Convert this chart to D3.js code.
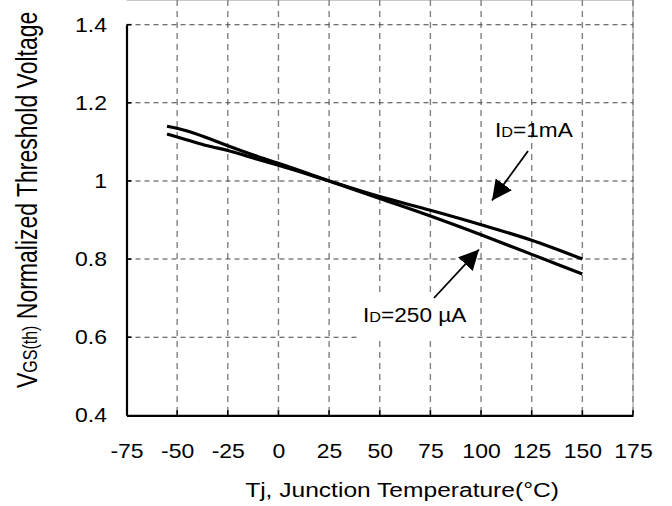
<!DOCTYPE html>
<html>
<head>
<meta charset="utf-8">
<script src="https://cdn.jsdelivr.net/npm/d3@7"></script>
<style>
  body { margin: 0; background: #fff; }
  svg { display: block; font-family: Arial, "Liberation Sans", sans-serif; }
</style>
</head>
<body>
<svg width="672" height="506"></svg>
<script>
// data
var temps = [-55, -45, -35, -25, -10, 0, 25, 50, 75, 100, 125, 150];
var vth1mA = [1.12, 1.105, 1.09, 1.078, 1.055, 1.04, 1.0, 0.96, 0.925, 0.888, 0.848, 0.80];
var vth250uA = [1.14, 1.128, 1.11, 1.09, 1.062, 1.045, 1.0, 0.955, 0.91, 0.862, 0.812, 0.762];
var xTicks = [-75, -50, -25, 0, 25, 50, 75, 100, 125, 150, 175];
var yTicks = [0.4, 0.6, 0.8, 1.0, 1.2, 1.4];

var svg = d3.select("svg");

// the source picture is stretched sideways, so text gets a horizontal scale
var stretch = 1.15;

var x = d3.scaleLinear().domain([-75, 175]).range([126.5, 633]);
var y = d3.scaleLinear().domain([0.4, 1.4]).range([415.3, 24.7]);

var left = x(-75), right = x(175), top = y(1.4), bottom = y(0.4);

// frame: light top / right border
svg.append("line")
    .attr("x1", left).attr("x2", right).attr("y1", top).attr("y2", top)
    .attr("stroke", "#c8c8c8").attr("stroke-width", 2);
svg.append("line")
    .attr("x1", right).attr("x2", right).attr("y1", top).attr("y2", bottom)
    .attr("stroke", "#c8c8c8").attr("stroke-width", 2);

// grid
var grid = svg.append("g");
grid.selectAll("line.v")
  .data(xTicks.slice(1))
  .join("line")
    .attr("class", "v")
    .attr("x1", d => x(d)).attr("x2", d => x(d))
    .attr("y1", top).attr("y2", bottom)
    .attr("stroke", "#808080")
    .attr("stroke-width", 1.4)
    .attr("stroke-dasharray", "6,5");
grid.selectAll("line.h")
  .data(yTicks.slice(1))
  .join("line")
    .attr("class", "h")
    .attr("x1", left).attr("x2", right)
    .attr("y1", d => y(d)).attr("y2", d => y(d))
    .attr("stroke", "#444")
    .attr("stroke-width", 1.1)
    .attr("stroke-dasharray", "5,4");

// white box behind the lower label
svg.append("rect")
    .attr("x", 357).attr("y", 297).attr("width", 104).attr("height", 44)
    .attr("fill", "#fff");

// axes
var xAxis = d3.axisBottom(x).tickValues(xTicks).tickSize(0).tickPadding(28.5)
    .tickFormat(d => String(d));
var yAxis = d3.axisLeft(y).tickValues(yTicks).tickSize(0).tickPadding(19.5 / stretch)
    .tickFormat(d => d === 1 ? "1" : d3.format(".1f")(d));

var gx = svg.append("g").attr("transform", `translate(0,${bottom})`).call(xAxis);
var gy = svg.append("g").attr("transform", `translate(${left},0)`).call(yAxis);
[gx, gy].forEach(g => {
  g.select(".domain").attr("stroke", "#000").attr("stroke-width", 2.2);
  g.selectAll("text").attr("font-size", 20).attr("fill", "#000")
    .attr("font-family", "Arial, 'Liberation Sans', sans-serif")
    .attr("transform", `scale(${stretch},1)`);
});

// short inner tick stubs
svg.append("g").selectAll("line")
  .data(xTicks.slice(1))
  .join("line")
    .attr("x1", d => x(d)).attr("x2", d => x(d))
    .attr("y1", bottom).attr("y2", bottom - 5)
    .attr("stroke", "#000").attr("stroke-width", 1.6);
svg.append("g").selectAll("line")
  .data(yTicks.slice(1))
  .join("line")
    .attr("x1", left).attr("x2", left + 5)
    .attr("y1", d => y(d)).attr("y2", d => y(d))
    .attr("stroke", "#000").attr("stroke-width", 1.6);

// curves
var line = d3.line()
    .x(d => x(d[0]))
    .y(d => y(d[1]))
    .curve(d3.curveMonotoneX);

[vth1mA, vth250uA].forEach(s => {
  svg.append("path")
      .datum(temps.map((t, i) => [t, s[i]]))
      .attr("fill", "none")
      .attr("stroke", "#000")
      .attr("stroke-width", 3.2)
      .attr("d", line);
});

// arrows
svg.append("defs").append("marker")
    .attr("id", "head")
    .attr("viewBox", "0 -5 10 10")
    .attr("refX", 10).attr("refY", 0)
    .attr("markerWidth", 20).attr("markerHeight", 20)
    .attr("markerUnits", "userSpaceOnUse")
    .attr("orient", "auto")
  .append("path")
    .attr("d", "M0,-5L10,0L0,5Z")
    .attr("fill", "#000");

function arrow(x1, y1, x2, y2) {
  svg.append("line")
      .attr("x1", x1).attr("y1", y1).attr("x2", x2).attr("y2", y2)
      .attr("stroke", "#000").attr("stroke-width", 1.8)
      .attr("marker-end", "url(#head)");
}
arrow(528, 151, 492, 200.5);
arrow(434, 298, 479, 249.5);

// labels
function idLabel(px, py, rest) {
  var t = svg.append("text")
      .attr("transform", `translate(${px},${py}) scale(1.16,1)`)
      .attr("font-size", 19.5).attr("fill", "#000");
  t.append("tspan").text("I");
  t.append("tspan").attr("font-size", 14).text("D");
  t.append("tspan").text(rest);
}
idLabel(495, 137, "=1mA");
idLabel(363, 322, "=250 \u00b5A");

// axis titles
svg.append("text")
    .attr("transform", `translate(402,497) scale(1.17,1)`)
    .attr("text-anchor", "middle")
    .attr("font-size", 21)
    .text("Tj, Junction Temperature(\u00b0C)");

var yt = svg.append("text")
    .attr("transform", "translate(37,388) rotate(-90) scale(1,1.3)")
    .attr("font-size", 23);
yt.append("tspan").text("V");
yt.append("tspan").attr("font-size", 16).text("GS(th)");
yt.append("tspan").text(" Normalized Threshold Voltage");
</script>
</body>
</html>
